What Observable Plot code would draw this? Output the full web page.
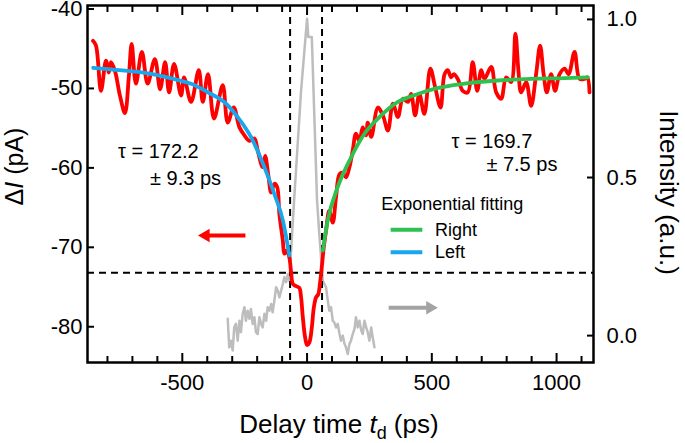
<!DOCTYPE html>
<html>
<head>
<meta charset="utf-8">
<script src="https://cdn.jsdelivr.net/npm/d3@7"></script>
<script src="https://cdn.jsdelivr.net/npm/@observablehq/plot@0.6"></script>
<style>
  body { margin: 0; background: #fff; }
  #chart { width: 685px; height: 443px; }
</style>
</head>
<body>
<div id="chart"></div>
<script>
// ---------- DATA ----------
// Delta I (pA) vs delay time (ps), red trace
const redT = [-858,-846,-826,-806,-795,-786,-770,-750,-730,-714,
  -703,-686,-662,-639,-610,-589,-569,-553,-533,-505,
  -493,-465,-434,-418,-397,-373,-338,-318,-294,-271,
  -251,-231,-211,-198,-178,-168,-155,-144,-131,-120,
  -111,-97,-91,-81,-71,-64,-57,-44,-31,-24,
  -17,-8,0,9,19,27,36,45,53,59,
  67,76,89,103,116,130,143,156,170,183,
  196,210,223,237,243,257,284,304,324,344,
  364,384,404,417,433,450,470,494,513,535,
  551,564,577,588,604,624,644,664,682,698,
  711,738,758,778,798,818,835,847,858,878,
  898,918,934,948,961,978,994,1012,1032,1048,
  1072,1092,1112,1123,1132];
const redDI = [-44.0,-44.6,-50.3,-46.5,-48.0,-46.7,-47.8,-50.9,-53.1,-48.4,
  -44.4,-49.4,-45.4,-49.4,-46.3,-50.1,-46.7,-50.5,-46.9,-50.9,
  -48.6,-51.7,-47.7,-51.7,-48.2,-53.8,-49.6,-54.3,-52.4,-54.9,
  -55.9,-56.6,-56.3,-57.8,-59.9,-58.5,-61.0,-63.1,-62.0,-62.4,
  -65.8,-69.2,-70.8,-70.4,-71.3,-73.1,-74.6,-74.9,-75.1,-76.3,
  -78.8,-81.3,-82.3,-82.0,-80.1,-77.6,-76.3,-75.9,-74.2,-72.5,
  -70.0,-67.9,-65.4,-66.9,-63.7,-60.8,-60.6,-61.2,-59.9,-57.8,
  -55.7,-56.6,-54.9,-55.9,-54.3,-56.1,-52.4,-53.4,-55.3,-51.9,
  -53.6,-51.3,-51.7,-50.7,-53.4,-50.7,-53.2,-47.5,-49.8,-52.4,
  -48.2,-47.7,-48.6,-48.2,-48.8,-50.3,-50.5,-46.7,-50.3,-47.7,
  -48.8,-47.3,-50.5,-51.3,-48.6,-49.2,-43.1,-47.7,-50.5,-49.2,
  -52.2,-48.2,-44.6,-48.2,-50.5,-48.2,-50.3,-48.2,-47.5,-48.2,
  -45.4,-48.8,-48.8,-48.6,-50.5];

// Intensity (a.u.) vs delay time (ps), grey trace (right axis)
const grayT = [-318,-312,-305,-298,-292,-285,-278,-271,-265,-258,
  -251,-245,-238,-231,-225,-218,-211,-205,-198,-191,
  -184,-178,-171,-164,-158,-151,-144,-138,-131,-124,
  -117,-111,-104,-97,-91,-84,-77,-71,-64,-52,
  -24,0,5,19,40,49,63,76,83,89,
  96,103,109,116,123,130,136,143,150,156,
  163,170,176,183,190,196,203,210,217,223,
  230,237,243,250,257,263,270];
const grayI = [0.053,-0.037,-0.016,-0.047,0.026,0.037,-0.016,0.047,0.011,0.069,
  0.090,0.047,0.079,0.053,0.084,0.037,0.058,0.011,0.005,0.058,
  0.037,0.026,0.069,0.047,0.090,0.079,0.100,0.074,0.111,0.153,
  0.142,0.121,0.142,0.164,0.185,0.169,0.195,0.174,0.269,0.427,
  0.775,1.002,0.944,0.944,0.427,0.322,0.174,0.153,0.111,0.079,
  0.090,0.047,0.042,0.026,0.037,0.005,-0.016,0.000,-0.026,-0.037,
  -0.058,-0.026,-0.016,0.005,0.021,0.058,0.026,0.047,0.016,0.005,
  0.047,0.026,0.011,-0.016,0.026,-0.005,-0.037];

// Exponential fits
const leftFitT  = [-857,-753,-619,-512,-465,-385,-332,-278,-225,-171,-131,-97,-71];
const leftFitDI = [-47.4,-47.7,-48.2,-49.0,-49.4,-50.7,-51.7,-53.6,-56.1,-59.9,-63.3,-66.6,-71.0];
const rightFitT  = [63,83,123,176,230,284,364,444,517,631,765,898,1032,1126];
const rightFitDI = [-70.4,-66.6,-62.4,-58.7,-55.7,-53.8,-51.7,-50.7,-50.0,-49.4,-49.0,-48.8,-48.7,-48.6];

// Guides
const guideT = [-68, 60];
const guideDI = [-73.2];

// Ticks
const xMajorTicks = [-500, 0, 500, 1000];
const xMinorTicks = [-800,-700,-600,-400,-300,-200,-100,100,200,300,400,600,700,800,900,1100];
const leftTicks = [-80, -70, -60, -50, -40];
const rightTicks = [0.0, 0.5, 1.0];
const rightTickLabels = ["0.0", "0.5", "1.0"];

// Annotations
const tauTexts = ["τ = 172.2", "± 9.3 ps", "τ = 169.7", "± 7.5 ps"];
const tauT = [-596, -487, 741, 861];
const tauDI = [-58.0, -61.3, -56.66, -59.6];

const legendTitle = "Exponential fitting";
const legendLabels = ["Right", "Left"];

// arrows: [shaft start, shaft end, head centroid, level]
const redArrow = [{t1: -245, t2: -400, head: -406, v: -68.5}];
const grayArrow = [{t1: 329, t2: 488, head: 493, v: -77.6}];

// ---------- SCALES ----------
const xDomain = [-880, 1148];
const yDomain = [-84.5, -39.56];
const iDomain = [-0.085, 1.044];
const toY = i => yDomain[0] + (i - iDomain[0]) / (iDomain[1] - iDomain[0]) * (yDomain[1] - yDomain[0]);

const red = redT.map((t, k) => ({t, v: redDI[k]}));
const gray = grayT.map((t, k) => ({t, v: toY(grayI[k])}));
const leftFit = leftFitT.map((t, k) => ({t, v: leftFitDI[k]}));
const rightFit = rightFitT.map((t, k) => ({t, v: rightFitDI[k]}));
const taus = tauTexts.map((s, k) => ({s, t: tauT[k], v: tauDI[k]}));
const rightTicksY = rightTicks.map(toY);

const FONT = "'Liberation Sans', Arial, Helvetica, sans-serif";
const BLUE = "#18A6EC";
const GREEN = "#2EC14F";

const plot = Plot.plot({
  width: 685,
  height: 443,
  marginLeft: 87,
  marginRight: 92,
  marginTop: 5,
  marginBottom: 81,
  style: {fontFamily: FONT, fontSize: "22px", color: "black", background: "white", overflow: "visible"},
  x: {domain: xDomain},
  y: {domain: yDomain},
  marks: [
    Plot.line(gray, {x: "t", y: "v", stroke: "#bdbdbd", strokeWidth: 2.5}),
    Plot.ruleX(guideT, {stroke: "black", strokeWidth: 2, strokeDasharray: "7,5"}),
    Plot.ruleY(guideDI, {stroke: "black", strokeWidth: 2, strokeDasharray: "7,5"}),
    Plot.line(red, {x: "t", y: "v", stroke: "#ff0000", strokeWidth: 3.8, curve: "catmull-rom"}),
    Plot.line(leftFit, {x: "t", y: "v", stroke: BLUE, strokeWidth: 3.8, curve: "monotone-x"}),
    Plot.line(rightFit, {x: "t", y: "v", stroke: GREEN, strokeWidth: 3.8, curve: "monotone-x"}),
    // arrows
    Plot.ruleY(redArrow, {y: "v", x1: "t1", x2: "t2", stroke: "#ff0000", strokeWidth: 4}),
    Plot.dot(redArrow, {x: "head", y: "v", symbol: "triangle", r: 5, fill: "#ff0000", stroke: null, rotate: -90}),
    Plot.ruleY(grayArrow, {y: "v", x1: "t1", x2: "t2", stroke: "#a3a3a3", strokeWidth: 4}),
    Plot.dot(grayArrow, {x: "head", y: "v", symbol: "triangle", r: 5, fill: "#a3a3a3", stroke: null, rotate: 90}),
    // tau annotations
    Plot.text(taus, {x: "t", y: "v", text: "s", fontSize: 20, textAnchor: "middle", fill: "black"}),
    // legend
    Plot.text([legendTitle], {x: [297], y: [-64.53], text: d => d, fontSize: 18, textAnchor: "start", fill: "black"}),
    Plot.ruleY([-67.8], {x1: 337, x2: 464, stroke: GREEN, strokeWidth: 4}),
    Plot.ruleY([-70.63], {x1: 337, x2: 464, stroke: BLUE, strokeWidth: 4}),
    Plot.text(legendLabels, {x: [513, 513], y: [-67.8, -70.58], text: d => d, fontSize: 18, textAnchor: "start", fill: "black"}),
    // frame
    Plot.frame({stroke: "black", strokeWidth: 2.5}),
    // axes: inward ticks
    Plot.axisX({anchor: "bottom", ticks: xMajorTicks, tickSize: -9, strokeWidth: 2, tickFormat: () => "", label: null}),
    Plot.axisX({anchor: "bottom", ticks: xMinorTicks, tickSize: -6, strokeWidth: 2, tickFormat: () => "", label: null}),
    Plot.axisX({anchor: "top", ticks: xMajorTicks, tickSize: -9, strokeWidth: 2, tickFormat: () => "", label: null}),
    Plot.axisX({anchor: "top", ticks: xMinorTicks, tickSize: -6, strokeWidth: 2, tickFormat: () => "", label: null}),
    Plot.axisX({anchor: "bottom", ticks: xMajorTicks, tickSize: 0, tickPadding: 12, fontSize: 22, tickFormat: d => `${d}`, label: null}),
    Plot.axisY({anchor: "left", ticks: leftTicks, tickSize: -7, strokeWidth: 2, tickFormat: () => "", label: null}),
    Plot.axisY({anchor: "left", ticks: leftTicks, tickSize: 0, tickPadding: 5, fontSize: 22, tickFormat: d => `${d}`, label: null}),
    Plot.axisY({anchor: "right", ticks: rightTicksY, tickSize: -7, strokeWidth: 2, tickFormat: () => "", label: null}),
    Plot.axisY({anchor: "right", ticks: rightTicksY, tickSize: 0, tickPadding: 13, fontSize: 22,
      tickFormat: d => {
        let best = 0;
        rightTicksY.forEach((y, k) => { if (Math.abs(y - d) < Math.abs(rightTicksY[best] - d)) best = k; });
        return rightTickLabels[best];
      }, label: null})
  ]
});

document.getElementById("chart").appendChild(plot);

// Axis titles (real text with italic / subscript parts)
const svg = d3.select(plot);
const bt = svg.append("text")
  .attr("x", 339).attr("y", 433)
  .attr("text-anchor", "middle")
  .style("font-family", FONT).style("font-size", "26px").attr("fill", "black");
bt.append("tspan").text("Delay time ");
bt.append("tspan").style("font-style", "italic").text("t");
bt.append("tspan").attr("dy", 6).style("font-size", "18px").text("d");
bt.append("tspan").attr("dy", -6).text(" (pA)".replace("pA", "ps"));

const lt = svg.append("text")
  .attr("transform", "translate(23,166.5) rotate(-90)")
  .attr("text-anchor", "middle")
  .style("font-family", FONT).style("font-size", "25px").attr("fill", "black");
lt.append("tspan").text("Δ");
lt.append("tspan").style("font-style", "italic").text("I");
lt.append("tspan").text(" (pA)");

svg.append("text")
  .attr("transform", "translate(660,192.5) rotate(90)")
  .attr("text-anchor", "middle")
  .style("font-family", FONT).style("font-size", "26px").attr("fill", "black")
  .text("Intensity (a.u.)");
</script>
</body>
</html>
